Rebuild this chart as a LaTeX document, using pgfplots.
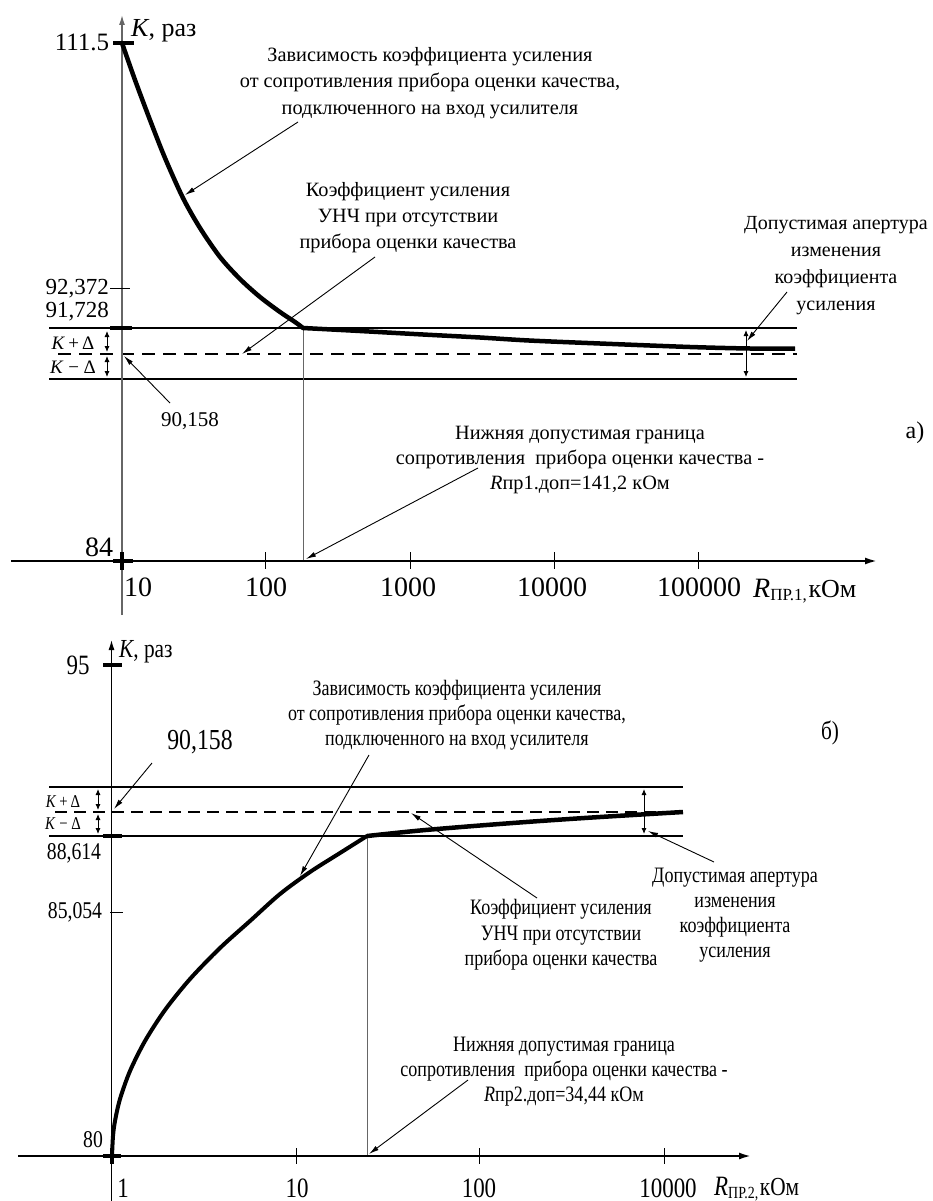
\documentclass[border=0pt]{standalone}
\usepackage{fontspec}
\setmainfont{Liberation Serif}
\newfontfamily\cond[FakeStretch=0.82]{Liberation Serif}
\usepackage{pgfplots}
\pgfplotsset{compat=1.18}
\usetikzlibrary{arrows.meta}
\newcommand{\fz}[2]{\fontsize{#1pt}{#2pt}\selectfont}
\begin{document}
\begin{tikzpicture}[
  ar/.style={-{Latex[length=10pt,width=5pt]}, line width=0.9pt},
  dar/.style={{Latex[length=6pt,width=5pt]}-{Latex[length=6pt,width=5pt]}, line width=0.9pt},
  lbl/.style={inner sep=0pt, align=center},
]
\begin{axis}[
  width=933pt, height=1201pt, scale only axis,
  xmin=0, xmax=933, ymin=0, ymax=1201, y dir=reverse,
  hide axis, clip=false,
]
\coordinate (BL) at (axis cs:0,1201);
\coordinate (TR) at (axis cs:933,0);
% ================= panel a =================
\addplot[line width=2pt, black] coordinates {(49,328) (797,328)};
\addplot[line width=2pt, black] coordinates {(49,379) (797,379)};
\addplot[line width=2pt, black, dash pattern=on 13pt off 8pt] coordinates {(58,354) (797,354)};
\addplot[line width=1pt, black!60] coordinates {(303,328) (303,561)};
\addplot[line width=1.4pt, black!60, -{Latex[length=10pt,width=6pt]}] coordinates {(122,615) (122,15)};
\addplot[line width=2pt, black, -{Latex[length=12pt,width=7pt]}] coordinates {(11,561) (877,561)};
\addplot[line width=1pt, black] coordinates {(265,552) (265,569)};
\addplot[line width=1pt, black] coordinates {(410,552) (410,569)};
\addplot[line width=1pt, black] coordinates {(554,552) (554,569)};
\addplot[line width=1pt, black] coordinates {(698,552) (698,569)};
\addplot[line width=4pt, black] coordinates {(113,43) (134,43)};
\addplot[line width=1pt, black] coordinates {(110,288) (130,288)};
\addplot[line width=4pt, black] coordinates {(110,328) (132,328)};
\addplot[line width=4pt, black] coordinates {(113,561) (133,561)};
\addplot[line width=4pt, black] coordinates {(122,552) (122,570)};
\addplot[line width=4.5pt, black, smooth, line cap=round] coordinates {
(122,43) (135,80) (150,120) (165,158) (183,198) (200,228) (220,257) (240,279) (260,297) (280,312) (295,322) (303,328)};
\addplot[line width=4.5pt, black, smooth] coordinates {
(303,328) (360,331) (423,334.5) (480,337.5) (529,340.5) (600,343.5) (690,347) (750,348.5) (795,348.5)};
\draw[dar] (axis cs:107,331) -- (axis cs:107,352);
\draw[dar] (axis cs:107,356) -- (axis cs:107,377);
\draw[dar] (axis cs:746,330) -- (axis cs:746,377);
\draw[ar] (axis cs:298,122) -- (axis cs:185,195);
\draw[ar] (axis cs:375,257) -- (axis cs:242,354);
\draw[ar] (axis cs:170,403) -- (axis cs:124,356);
\draw[ar] (axis cs:787,292) -- (axis cs:747,341);
\draw[ar] (axis cs:478,468) -- (axis cs:306,559);
\node[lbl, anchor=west, font=\fz{26}{30}] at (axis cs:131,31) {\textit{K}, раз};
\node[lbl, font=\fz{25}{30}] at (axis cs:82,42) {111.5};
\node[lbl, anchor=east, font=\fz{23}{28}] at (axis cs:109,289) {92,372};
\node[lbl, anchor=east, font=\fz{23}{28}] at (axis cs:109,312) {91,728};
\node[lbl, font=\fz{19}{23}] at (axis cs:73,343) {\textit{K}\,+\,Δ};
\node[lbl, font=\fz{19}{23}] at (axis cs:73,367) {\textit{K} − Δ};
\node[lbl, font=\fz{21}{26}] at (axis cs:190,421) {90,158};
\node[lbl, font=\fz{28}{32}] at (axis cs:99,547) {84};
\node[lbl, font=\fz{20.3}{26.7}] at (axis cs:430,83) {Зависимость коэффициента усиления\\от сопротивления прибора оценки качества,\\подключенного на вход усилителя};
\node[lbl, font=\fz{20.3}{26}] at (axis cs:408,218) {Коэффициент усиления\\УНЧ при отсутствии\\прибора оценки качества};
\node[lbl, font=\fz{20}{27}] at (axis cs:836,266) {Допустимая апертура\\изменения\\коэффициента\\усиления};
\node[lbl, font=\fz{20.3}{25}] at (axis cs:580,460) {Нижняя допустимая граница\\сопротивления\ \ прибора оценки качества -\\\textit{R}пр1.доп=141,2 кОм};
\node[lbl, font=\fz{24}{28}] at (axis cs:915,433) {а)};
\node[lbl, font=\fz{28}{32}] at (axis cs:138,587) {10};
\node[lbl, font=\fz{28}{32}] at (axis cs:266,587) {100};
\node[lbl, font=\fz{28}{32}] at (axis cs:408,587) {1000};
\node[lbl, font=\fz{28}{32}] at (axis cs:552,587) {10000};
\node[lbl, font=\fz{28}{32}] at (axis cs:699,587) {100000};
\node[lbl, anchor=base west] at (axis cs:753,597) {{\fz{28}{32}\textit{R}}\raisebox{-3pt}{\fz{17}{20}ПР.1,}\,{\fz{26}{30}кОм}};
% ================= panel b =================
\addplot[line width=2pt, black] coordinates {(49,787) (683,787)};
\addplot[line width=2pt, black] coordinates {(49,836) (683,836)};
\addplot[line width=2pt, black, dash pattern=on 12pt off 7pt] coordinates {(55,812) (683,812)};
\addplot[line width=1pt, black!60] coordinates {(367,836) (367,1156)};
\addplot[line width=1.2pt, black, -{Latex[length=10pt,width=6pt]}] coordinates {(111.5,1201) (111.5,640)};
\addplot[line width=2pt, black, -{Latex[length=12pt,width=7pt]}] coordinates {(18,1156) (751,1156)};
\addplot[line width=1pt, black] coordinates {(296,1148) (296,1164)};
\addplot[line width=1pt, black] coordinates {(479,1148) (479,1164)};
\addplot[line width=1pt, black] coordinates {(664,1148) (664,1164)};
\addplot[line width=4pt, black] coordinates {(103,665) (122,665)};
\addplot[line width=4pt, black] coordinates {(103,836) (122,836)};
\addplot[line width=1pt, black] coordinates {(110,912) (123,912)};
\addplot[line width=4pt, black] coordinates {(103,1156) (121,1156)};
\addplot[line width=4pt, black] coordinates {(111.5,1148) (111.5,1164)};
\addplot[line width=4pt, black, smooth, line cap=round] coordinates {
(112,1156) (113,1136) (115,1121) (120,1099) (130,1071) (145,1041) (165,1010) (190,979) (220,948) (250,921) (280,894) (310,872) (340,853) (367,836)};
\addplot[line width=4.5pt, black, smooth] coordinates {
(367,836) (420,830.5) (480,825.5) (540,821) (600,817) (683,812)};
\draw[dar] (axis cs:98,789) -- (axis cs:98,810);
\draw[dar] (axis cs:98,814) -- (axis cs:98,834);
\draw[dar] (axis cs:644,789) -- (axis cs:644,834);
\draw[ar] (axis cs:152,763) -- (axis cs:114,809);
\draw[ar] (axis cs:369,755) -- (axis cs:300,876);
\draw[ar] (axis cs:537,898) -- (axis cs:411,813);
\draw[ar] (axis cs:714,862) -- (axis cs:648,831);
\draw[ar] (axis cs:468,1080) -- (axis cs:369,1154);
\node[lbl, anchor=west, font=\cond\fz{26}{30}] at (axis cs:119,652) {\textit{K}, раз};
\node[lbl, font=\cond\fz{28}{32}] at (axis cs:78,665) {95};
\node[lbl, font=\cond\fz{29}{33}] at (axis cs:200,742) {90,158};
\node[lbl, font=\cond\fz{22}{24.8}] at (axis cs:457,715) {Зависимость коэффициента усиления\\от сопротивления прибора оценки качества,\\подключенного на вход усилителя};
\node[lbl, font=\cond\fz{26}{30}] at (axis cs:830,733) {б)};
\node[lbl, font=\cond\fz{18}{22}] at (axis cs:63,802) {\textit{K}\,+\,Δ};
\node[lbl, font=\cond\fz{18}{22}] at (axis cs:63,824) {\textit{K} − Δ};
\node[lbl, font=\cond\fz{24}{28}] at (axis cs:74,853) {88,614};
\node[lbl, font=\cond\fz{24}{28}] at (axis cs:75,912) {85,054};
\node[lbl, font=\cond\fz{24}{28}] at (axis cs:93,1140) {80};
\node[lbl, font=\cond\fz{22}{25.5}] at (axis cs:561,935) {Коэффициент усиления\\УНЧ при отсутствии\\прибора оценки качества};
\node[lbl, font=\cond\fz{22}{25}] at (axis cs:735,915) {Допустимая апертура\\изменения\\коэффициента\\усиления};
\node[lbl, font=\cond\fz{22}{25}] at (axis cs:564,1072) {Нижняя допустимая граница\\сопротивления\ \ прибора оценки качества -\\\textit{R}пр2.доп=34,44 кОм};
\node[lbl, font=\cond\fz{28}{32}] at (axis cs:123,1188) {1};
\node[lbl, font=\cond\fz{28}{32}] at (axis cs:297,1188) {10};
\node[lbl, font=\cond\fz{28}{32}] at (axis cs:479,1188) {100};
\node[lbl, font=\cond\fz{28}{32}] at (axis cs:668,1188) {10000};
\node[lbl, anchor=base west] at (axis cs:714,1195) {\cond{\fz{28}{32}\textit{R}}\raisebox{-3pt}{\fz{17}{20}ПР.2,}\,{\fz{26}{30}кОм}};
\end{axis}
\pgfresetboundingbox
\path (BL) rectangle (TR);
\end{tikzpicture}
\end{document}
